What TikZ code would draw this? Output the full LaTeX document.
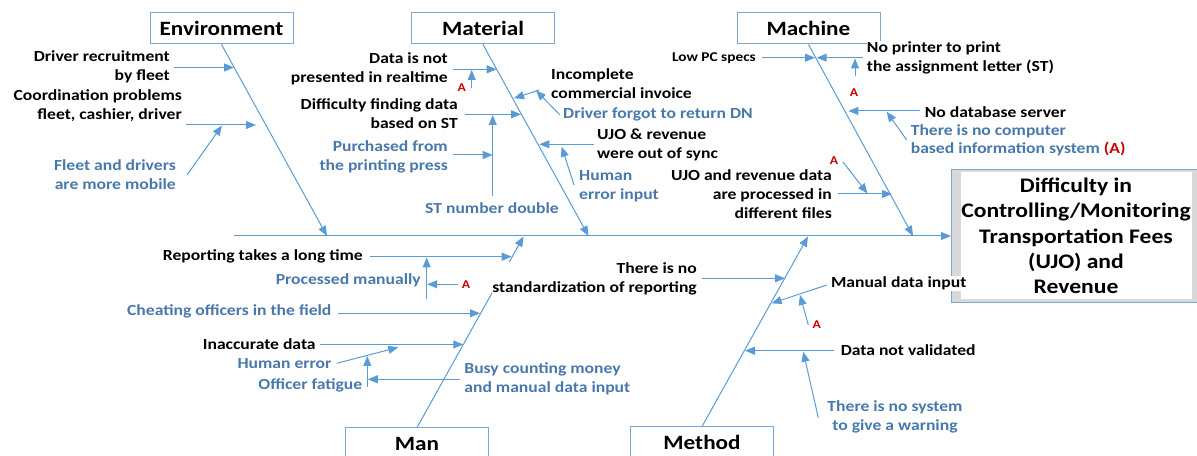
\documentclass[tikz,border=0pt]{standalone}
\usepackage{fontspec}
\setmainfont{Carlito}[FakeStretch=1.14]
\usetikzlibrary{arrows.meta}
\definecolor{lblue}{RGB}{91,155,213}
\definecolor{bblue}{RGB}{125,168,214}
\definecolor{tblue}{RGB}{72,120,172}
\definecolor{ared}{RGB}{200,0,0}
\definecolor{fgray}{RGB}{217,217,217}
\begin{document}
\begin{tikzpicture}[x=1bp,y=-1bp,
  arr/.style={draw=lblue,line width=1bp,-{Triangle[length=10bp,width=8bp]}},
  txt/.style={inner sep=0pt,font=\bfseries\fontsize{15.5}{19}\selectfont},
  bk/.style={txt,text=black},
  bl/.style={txt,text=tblue},
  sm/.style={inner sep=0pt,font=\bfseries\fontsize{13.5}{16}\selectfont},
  ra/.style={inner sep=0pt,font=\bfseries\fontsize{12}{14}\selectfont,text=ared},
  cover/.style={fill=white,inner xsep=0pt,inner ysep=1bp},
  cat/.style={draw=bblue,line width=1bp,minimum width=143bp,minimum height=31bp,inner sep=0pt,font=\bfseries\fontsize{20.4}{24}\selectfont},
  eff/.style={inner sep=0pt,align=center,font=\bfseries\fontsize{20.8}{25.4}\selectfont}]
\useasboundingbox (0,0) rectangle (1197,456);
\clip (0,0) rectangle (1197,456);

% category boxes
\node[cat] (env) at (221.5,28.5) {Environment};
\node[cat] (mat) at (483,28.5) {Material};
\node[cat] (mac) at (808.5,28.5) {Machine};
\node[cat] (man) at (417,443.5) {Man};
\node[cat] (met) at (702,442.5) {Method};

% effect box
\filldraw[draw=bblue,fill=fgray,line width=1bp] (951,169.5) rectangle (1210,302.7);
\fill[white] (961,172.5) rectangle (1192,299.5);
\node[eff] (effect) at (1076,236) {Difficulty in\\Controlling/Monitoring\\Transportation Fees\\(UJO) and\\Revenue};

% spine and bones
\coordinate (sp0) at (234,236);
\coordinate (sp1) at (951,236);
\draw[arr] (sp0) -- (sp1);
\draw[arr] (env.south) -- (327,236);
\draw[arr] (mat.south) -- (588.5,236);
\draw[arr] (mac.south) -- (913,236);
\draw[arr] (man.north) -- (523.5,236.5);
\draw[arr] (met.north) -- (808,236.5);

% Environment branches
\draw[arr] (174,67.5) -- (234,67.5);
\draw[arr] (186,125) -- (256,125);
\draw[arr] (187,175) -- (222,125.5);

% Material branches
\draw[arr] (453,69.3) -- (496.7,69.3);
\draw[arr] (471.7,88.5) -- (471.7,70);
\draw[arr] (539.3,90) -- (514,98.3);
\draw[arr] (560,115) -- (536,90.5);
\draw[arr] (465,114.3) -- (521,114.3);
\draw[arr] (492.7,196) -- (492.7,115);
\draw[arr] (453.3,155) -- (492.7,155);
\draw[arr] (594,144.3) -- (539.3,144.3);
\draw[arr] (574,185) -- (561.7,146.7);

% Machine branches
\draw[arr] (761.7,57.7) -- (815,57.7);
\draw[arr] (863.3,57.7) -- (816.7,57.7);
\draw[arr] (855,76) -- (855,58.5);
\draw[arr] (920,111) -- (848.3,111);
\draw[arr] (906.7,140) -- (886.7,111.7);
\draw[arr] (838,194) -- (892,194);
\draw[arr] (843,162) -- (867.5,193.5);

% Man branches
\draw[arr] (370,256.7) -- (511.7,256.7);
\draw[arr] (426.7,299) -- (426.7,257.5);
\draw[arr] (458.3,284.3) -- (427.2,284.3);
\draw[arr] (338.3,313.3) -- (480,313.3);
\draw[arr] (320,344.5) -- (463.3,344.5);
\draw[arr] (336.7,363.3) -- (398.3,347.3);
\draw[arr] (367.3,386.7) -- (367.3,356);
\draw[arr] (460,379.3) -- (367.8,379.3);

% Method branches
\draw[arr] (701.7,278.3) -- (785,278.3);
\draw[arr] (826.7,285) -- (771.7,303.3);
\draw[arr] (808.3,325) -- (800,295);
\draw[arr] (834,350.7) -- (745,350.7);
\draw[arr] (818.3,417.7) -- (803.3,351.7);

% Environment texts
\node[bk,anchor=east,align=right] (e1) at (170,67.2) {Driver recruitment\\by fleet};
\node[bk,anchor=east,align=right] (e2) at (182,105.3) {Coordination problems\\fleet, cashier, driver};
\node[bl,anchor=east,align=right] (e3) at (176,175) {Fleet and drivers\\are more mobile};

% Material texts
\node[bk,anchor=east,align=right] (m1) at (448,69) {Data is not\\presented in realtime};
\node[ra] (a1) at (461.7,87.3) {A};
\node[bk,anchor=west,align=left] (m2) at (551,83.3) {Incomplete\\commercial invoice};
\node[bl,anchor=west] (m3) at (563,114) {Driver forgot to return DN};
\node[bk,anchor=east,align=right] (m4) at (458,113.5) {Difficulty finding data\\based on ST};
\node[bl,anchor=east,align=right] (m5) at (448,156.5) {Purchased from\\the printing press};
\node[bl] (m6) at (492,207.7) {ST number double};
\node[bk,anchor=west,align=left] (m7) at (597,144.5) {UJO \& revenue\\were out of sync};
\node[bl,anchor=west,align=left] (m8) at (579,186.5) {Human\\error input};

% Machine texts
\node[sm,anchor=east] (c1) at (756,58) {Low PC specs};
\node[bk,cover,anchor=west,align=left] (c2) at (866.7,57.7) {No printer to print\\the assignment letter (ST)};
\node[ra] (a2) at (854,92.7) {A};
\node[bk,anchor=west] (c3) at (924.6,111.7) {No database server};
\node[bl,anchor=west,align=left] (c4) at (910.6,140.3) {There is no computer\\based information system {\color{ared}(A)}};
\node[ra] (a3) at (834,160.7) {A};
\node[bk,anchor=east,align=right] (c5) at (832,194.5) {UJO and revenue data\\are processed in\\different files};

% Man texts
\node[bk,anchor=east] (n1) at (363,256) {Reporting takes a long time};
\node[bl,anchor=east] (n2) at (421,280) {Processed manually};
\node[ra] (a4) at (466,284.3) {A};
\node[bl,anchor=east] (n3) at (331.6,311.7) {Cheating officers in the field};
\node[bk,anchor=east] (n4) at (315.8,344.3) {Inaccurate data};
\node[bl,anchor=east] (n5) at (331.6,363.3) {Human error};
\node[bl,anchor=east] (n6) at (362.5,385.7) {Officer fatigue};
\node[bl,anchor=west,align=left] (n7) at (464.2,379.2) {Busy counting money\\and manual data input};
\node[bk,cover,anchor=east,align=right] (n8) at (697,278.7) {There is no\\standardization of reporting};

% Method texts
\node[bk,cover,anchor=west] (d1) at (830.8,283.3) {Manual data input};
\node[ra] (a5) at (816.7,325) {A};
\node[bk,anchor=west] (d2) at (840.6,350) {Data not validated};
\node[bl,align=center] (d3) at (895,417) {There is no system\\to give a warning};
\end{tikzpicture}
\end{document}
